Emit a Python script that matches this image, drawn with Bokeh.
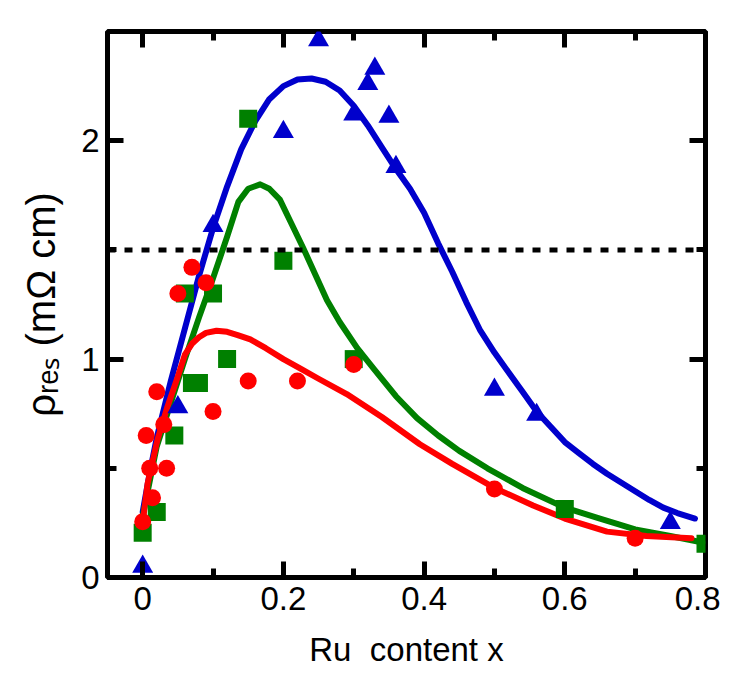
from bokeh.plotting import figure
from bokeh.models import Range1d, LinearAxis, FixedTicker, Span, CustomJSTickFormatter
from bokeh.embed import file_html
from bokeh.resources import INLINE

# ---- data ----
tri_x = [0.0, 0.05, 0.10, 0.20, 0.25, 0.30, 0.32, 0.33, 0.35, 0.36, 0.50, 0.56, 0.75]
tri_y = [0.05, 0.78, 1.61, 2.04, 2.46, 2.12, 2.26, 2.33, 2.11, 1.88, 0.86, 0.745, 0.25]

sq_x = [0.0, 0.02, 0.045, 0.06, 0.07, 0.08, 0.10, 0.12, 0.15, 0.20, 0.30, 0.60, 0.80]
sq_y = [0.205, 0.30, 0.65, 1.30, 0.89, 0.89, 1.30, 1.00, 2.10, 1.45, 1.00, 0.314, 0.155]

ci_x = [0.0, 0.005, 0.01, 0.014, 0.02, 0.03, 0.034, 0.05, 0.07, 0.09, 0.10, 0.15, 0.22, 0.30, 0.50, 0.70]
ci_y = [0.255, 0.65, 0.50, 0.365, 0.85, 0.70, 0.50, 1.30, 1.42, 1.35, 0.76, 0.90, 0.90, 0.975, 0.405, 0.18]

blue_x = [0.0, 0.01, 0.02, 0.04, 0.06, 0.08, 0.10, 0.12, 0.14, 0.16, 0.18, 0.20, 0.22, 0.24,
          0.26, 0.28, 0.30, 0.32, 0.34, 0.36, 0.38, 0.40, 0.42, 0.44, 0.46, 0.48, 0.50, 0.52,
          0.54, 0.56, 0.58, 0.60, 0.62, 0.64, 0.66, 0.68, 0.70, 0.72, 0.74, 0.76, 0.785]
blue_y = [0.30, 0.48, 0.64, 0.90, 1.14, 1.38, 1.60, 1.79, 1.96, 2.09, 2.19, 2.25, 2.28, 2.285,
          2.27, 2.23, 2.16, 2.07, 1.97, 1.87, 1.78, 1.67, 1.53, 1.40, 1.26, 1.13, 1.03, 0.94,
          0.85, 0.76, 0.69, 0.62, 0.57, 0.52, 0.475, 0.435, 0.395, 0.355, 0.32, 0.295, 0.27]

green_x = [0.0, 0.02, 0.04, 0.06, 0.08, 0.10, 0.12, 0.136, 0.15, 0.167, 0.18, 0.195, 0.21,
           0.228, 0.245, 0.262, 0.28, 0.305, 0.33, 0.36, 0.39, 0.42, 0.45, 0.49, 0.54, 0.60,
           0.65, 0.70, 0.75, 0.796]
green_y = [0.28, 0.60, 0.80, 1.00, 1.19, 1.37, 1.56, 1.72, 1.78, 1.80, 1.78, 1.73, 1.63,
           1.51, 1.39, 1.27, 1.17, 1.05, 0.95, 0.83, 0.73, 0.65, 0.58, 0.50, 0.41, 0.32,
           0.27, 0.22, 0.19, 0.16]

red_x = [0.0, 0.007, 0.021, 0.035, 0.05, 0.06, 0.07, 0.08, 0.09, 0.105, 0.12, 0.135, 0.153,
         0.175, 0.20, 0.225, 0.25, 0.29, 0.34, 0.394, 0.44, 0.50, 0.555, 0.60, 0.66, 0.716, 0.78]
red_y = [0.25, 0.43, 0.63, 0.78, 0.92, 1.02, 1.07, 1.10, 1.12, 1.13, 1.125, 1.11, 1.09,
         1.05, 1.00, 0.955, 0.91, 0.84, 0.735, 0.61, 0.52, 0.41, 0.33, 0.27, 0.21, 0.19, 0.18]

threshold = 1.5

x_ticks = [0, 0.2, 0.4, 0.6, 0.8]
x_minor = [0.1, 0.3, 0.5, 0.7]
y_ticks = [0, 1, 2]
y_minor = [0.5, 1.5]

BLUE = "#0000CC"
GREEN = "#008000"
RED = "#FF0000"
FONT = "Liberation Sans"

p = figure(frame_width=598, frame_height=546, width=720, height=666,
           x_range=Range1d(-0.05, 0.8), y_range=Range1d(0, 2.5),
           output_backend="svg", toolbar_location=None,
           min_border_left=107, min_border_top=31, min_border_right=15,
           min_border_bottom=89)

p.grid.visible = False
p.outline_line_color = "black"
p.outline_line_width = 5
p.outline_line_alpha = 1.0
p.background_fill_color = "white"
p.border_fill_color = "white"

xfmt = CustomJSTickFormatter(code="return tick == 0 ? '0' : tick.toFixed(1);")
yfmt = CustomJSTickFormatter(code="return tick.toFixed(0);")


def tick_style(ax):
    ax.axis_line_color = None
    ax.major_tick_out = 0
    ax.minor_tick_out = 0
    ax.major_tick_in = 16
    ax.minor_tick_in = 9
    ax.major_tick_line_width = 5
    ax.minor_tick_line_width = 5
    ax.major_tick_line_color = "black"
    ax.minor_tick_line_color = "black"
    ax.major_tick_line_cap = "butt"
    ax.minor_tick_line_cap = "butt"


xa = p.xaxis[0]
ya = p.yaxis[0]
for ax, major, minor, fmt in ((xa, x_ticks, x_minor, xfmt), (ya, y_ticks, y_minor, yfmt)):
    ax.ticker = FixedTicker(ticks=major, minor_ticks=minor)
    ax.formatter = fmt
    tick_style(ax)
    ax.major_label_text_font = FONT
    ax.major_label_text_font_size = "33px"
    ax.major_label_text_color = "black"
    ax.axis_label_text_font = FONT
    ax.axis_label_text_font_style = "normal"
    ax.axis_label_text_color = "black"

xa.major_label_standoff = 9
ya.major_label_standoff = 8

xa.axis_label = "Ru\u00a0\u00a0content x"
xa.axis_label_text_font_size = "33px"
xa.axis_label_standoff = 18

ya.axis_label = "\u03c1\u1d63\u2091\u209b (m\u03a9 cm)"
ya.axis_label_text_font_size = "40px"
ya.axis_label_standoff = 15

# ticks on top and right: label-free axes (only minor ticks, one axis per tick length)
for side, major, minor in (("above", x_ticks, x_minor), ("right", y_ticks, y_minor)):
    for positions, length in ((major, 16), (minor, 9)):
        ax = LinearAxis(ticker=FixedTicker(ticks=[], minor_ticks=positions))
        tick_style(ax)
        ax.minor_tick_in = length
        ax.major_label_standoff = 0
        p.add_layout(ax, side)

# dotted reference line
p.add_layout(Span(location=threshold, dimension="width", line_color="black",
                  line_width=5, line_dash="8 9"))

# curves
p.line(blue_x, blue_y, line_color=BLUE, line_width=6, line_join="round", line_cap="round")
p.line(green_x, green_y, line_color=GREEN, line_width=6, line_join="round", line_cap="round")
p.line(red_x, red_y, line_color=RED, line_width=6, line_join="round", line_cap="round")

# markers
p.scatter(sq_x, sq_y, marker="square", size=18, fill_color=GREEN, line_color=GREEN, line_width=0)
p.scatter(tri_x, tri_y, marker="triangle", size=21, fill_color=BLUE, line_color=BLUE, line_width=0)
p.scatter(ci_x, ci_y, marker="circle", size=17, fill_color=RED, line_color=RED, line_width=0)

open("out.html", "w").write(file_html(p, INLINE))
